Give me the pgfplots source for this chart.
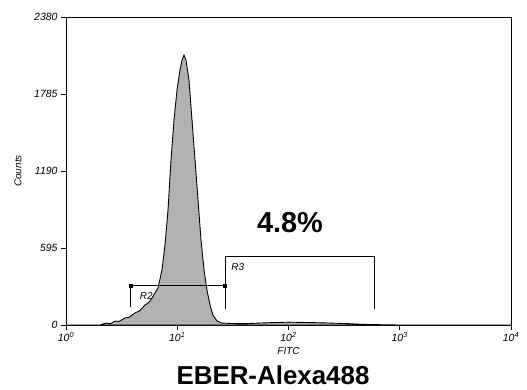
\documentclass[border=0pt]{standalone}
\usepackage{pgfplots}
\pgfplotsset{compat=1.18}
\usepackage{fontspec}
\setmainfont{Liberation Sans}
\begin{document}
\begin{tikzpicture}
\useasboundingbox (-66bp,-65bp) rectangle (461bp,325bp);
\begin{axis}[
  at={(0,0)}, anchor=south west,
  scale only axis, width=445bp, height=308bp,
  xmode=log, xmin=1, xmax=10000, ymin=0, ymax=2380,
  xtick={1,10,100,1000,10000},
  xticklabels={10\textsuperscript{0},10\textsuperscript{1},10\textsuperscript{2},10\textsuperscript{3},10\textsuperscript{4}},
  ytick={0,595,1190,1785,2380},
  yticklabels={0,595,1190,1785,2380},
  minor tick num=0, minor xtick={},
  log basis x=10,
  xtick pos=bottom, ytick pos=left,
  tick align=outside, major tick length=5bp,
  tick style={black, line width=0.8pt},
  ticklabel style={font=\itshape\fontsize{10.5}{10.5}\selectfont},
  xticklabel style={yshift=1bp},
  axis line style={line width=0.8pt},
  xlabel={FITC}, xlabel style={font=\itshape\fontsize{10}{10}\selectfont, yshift=1bp},
  ylabel={Counts}, ylabel style={font=\itshape\fontsize{10}{10}\selectfont, yshift=6bp},
  clip=false,
]
\addplot[fill=black!30, draw=black, line width=0.9pt] coordinates {
(1,0) (2.02,0) (2.29,15) (2.5,10) (2.76,30) (3.0,28) (3.39,54) (3.7,60) (4.17,93) (4.6,110) (5.13,155) (5.5,170) (5.93,209) (6.71,286)
(7.29,425) (7.76,618) (8.26,889) (8.79,1275) (9.35,1584) (9.95,1816) (10.59,1970) (11.04,2048) (11.5,2086)
(11.98,2048) (12.75,1893) (13.57,1584) (14.45,1275) (15.37,966) (16.35,657) (17.4,425) (18.5,270) (19.7,155)
(20.9,77) (22.8,31) (25.2,15) (30,12) (40,10) (55,15) (70,18) (85,20) (100,22) (130,20) (170,18) (236,15) (300,12) (357,10) (450,5) (600,3) (800,1) (1000,0) (10000,0)
} \closedcycle;
% R2 marker
\addplot[black, line width=0.8pt] coordinates {(3.81,141) (3.81,304) (26.9,304)};
\addplot[only marks, mark=square*, mark size=1.6pt, black] coordinates {(3.81,304) (26.9,304)};
% R3 marker
\addplot[black, line width=0.6pt] coordinates {(26.9,124) (26.9,533) (590,533) (590,124)};
\node[font=\itshape\fontsize{10}{10}\selectfont, anchor=west] at (axis cs:4.3,225) {R2};
\node[font=\itshape\fontsize{10}{10}\selectfont, anchor=west] at (axis cs:28.5,450) {R3};
\node[font=\bfseries\fontsize{29}{29}\selectfont] at (axis cs:103,790) {4.8\%};
\end{axis}
\node[font=\bfseries\fontsize{26}{26}\selectfont, anchor=base] at (207bp,-59bp) {EBER-Alexa488};
\end{tikzpicture}
\end{document}
